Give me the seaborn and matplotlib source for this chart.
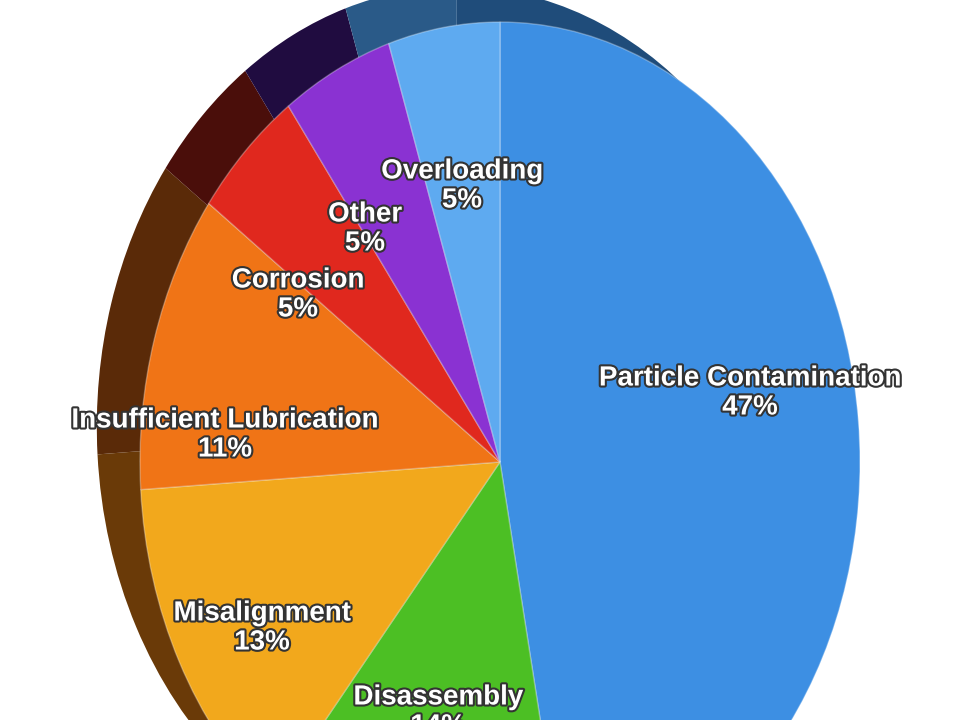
import matplotlib
matplotlib.use("Agg")
import matplotlib.pyplot as plt
import matplotlib.patheffects as pe
import seaborn as sns

sns.set_theme(style="white")
plt.rcParams['font.family'] = ['Liberation Sans', 'DejaVu Sans']

categories = ["Particle Contamination", "Disassembly", "Misalignment",
              "Insufficient Lubrication", "Corrosion", "Other", "Overloading"]
values = [47, 14, 13, 11, 5, 5, 5]
colors = ["#3d8fe3", "#4cbf24", "#f2a81c", "#f07416", "#e0281e", "#8a32d2", "#5eaaf0"]
dark = ["#1f4c7a", "#1d4a10", "#6a3a08", "#5a2a08", "#4a0e0a", "#200c40", "#2a5a88"]
label_px = [(750, 393), (438, 712), (262, 628), (225, 435), (298, 295), (365, 229), (462, 186)]

fig = plt.figure(figsize=(9.6, 7.2), dpi=100)
ax = fig.add_axes([0, 0, 1, 1])
rx, ry, cx, cy = 360, 440, 500, 462
ax.pie(values, colors=dark, startangle=90, counterclock=False, center=(-0.12, 0.08),
       wedgeprops=dict(linewidth=0))
ax.pie(values, colors=colors, startangle=90, counterclock=False,
       wedgeprops=dict(linewidth=1, edgecolor=(1, 1, 1, 0.3)))
ax.set_aspect('auto')
ax.set_xlim(-cx / rx, (960 - cx) / rx)
ax.set_ylim(-(720 - cy) / ry, cy / ry)
ax.axis('off')

for cat, v, (px, py) in zip(categories, values, label_px):
    x = (px - cx) / rx
    y = (cy - py) / ry
    ax.text(x, y, f"{cat}\n{v}%", ha='center', va='center', color='white',
            fontsize=20, fontweight='bold', linespacing=1.15,
            path_effects=[pe.withStroke(linewidth=3, foreground='#333333')])

fig.savefig("out.png", dpi=100)
